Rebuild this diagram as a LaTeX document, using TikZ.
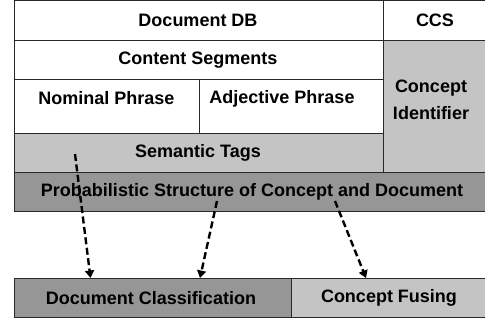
\documentclass[tikz,border=0pt]{standalone}
\usepackage{fontspec}
\setmainfont{Liberation Sans}
\usetikzlibrary{arrows.meta}
\definecolor{lightg}{RGB}{196,196,196}
\definecolor{darkg}{RGB}{150,150,150}
\definecolor{edge}{RGB}{40,40,40}
\begin{document}
\begin{tikzpicture}[x=1pt,y=-1pt,
  cell/.style={draw=edge,line width=0.9pt},
  lbl/.style={inner sep=0pt,font=\fontsize{18}{20}\selectfont\bfseries,text=black},
  dasharrow/.style={line width=2.4pt,dash pattern=on 7pt off 3.5pt,-{Triangle[width=9pt,length=7.5pt]}}]
\useasboundingbox (0,0) rectangle (485,324);
\clip (0,0) rectangle (485,324);
% cells
\filldraw[cell,fill=white] (14,0.5) rectangle (383,40.5);
\filldraw[cell,fill=white] (383,0.5) rectangle (490,40.5);
\filldraw[cell,fill=white] (14,40.5) rectangle (383,79);
\filldraw[cell,fill=white] (14,79) rectangle (199,133);
\filldraw[cell,fill=white] (199,79) rectangle (383,133);
\filldraw[cell,fill=lightg] (14,133) rectangle (383,172);
\filldraw[cell,fill=lightg] (383,40.5) rectangle (490,172);
\filldraw[cell,fill=darkg] (14,172) rectangle (490,211);
\filldraw[cell,fill=darkg] (14,278) rectangle (291,317);
\filldraw[cell,fill=lightg] (291,278) rectangle (490,317);
% labels
\node[lbl] (ddb) at (198,20) {Document DB};
\node[lbl] (ccs) at (435,20) {CCS};
\node[lbl] (cs) at (198,60) {Content Segments};
\node[lbl] (np) at (106.5,98.5) {Nominal Phrase};
\node[lbl] (ap) at (282,98.5) {Adjective Phrase};
\node[lbl] (st) at (198,152.5) {Semantic Tags};
\node[lbl,align=center] (ci) at (431,99.5) {Concept\\[7pt]Identifier};
\node[lbl] (ps) at (252,192) {Probabilistic Structure of Concept and Document};
\node[lbl] (dc) at (151,298) {Document Classification};
\node[lbl] (cf) at (389,298) {Concept Fusing};
% connector ends
\coordinate (a1s) at (75,154);
\coordinate (a1e) at (90.5,278);
\coordinate (a2s) at (217,201);
\coordinate (a2e) at (200,278);
\coordinate (a3s) at (335,201);
\coordinate (a3e) at (366,278);
\draw[dasharrow] (a1s) -- (a1e);
\draw[dasharrow] (a2s) -- (a2e);
\draw[dasharrow] (a3s) -- (a3e);
\end{tikzpicture}
\end{document}
